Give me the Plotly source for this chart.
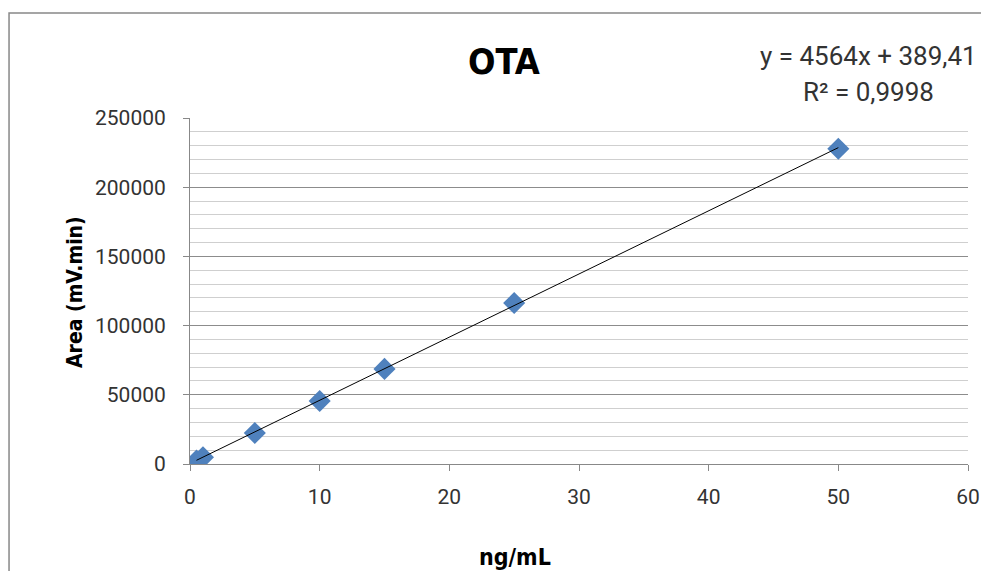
import plotly.graph_objects as go

conc = [0.5, 1, 5, 10, 15, 25, 50]
area = [2500, 4900, 22400, 45500, 68700, 116300, 227800]
slope = 4564
intercept = 389.41
r2_text = "R² = 0,9998"
eq_text = "y = 4564x + 389,41"

x_fit = [min(conc), max(conc)]
y_fit = [slope * v + intercept for v in x_fit]

FONT = "Roboto, Liberation Sans, sans-serif"
BOLD = "DejaVu Sans Condensed, Roboto, sans-serif"

fig = go.Figure()
fig.add_trace(go.Scatter(x=conc, y=area, mode="markers",
                         marker=dict(symbol="diamond", size=17, color="#4F81BD",
                                     line=dict(width=0)),
                         showlegend=False))
fig.add_trace(go.Scatter(x=x_fit, y=y_fit, mode="lines",
                         line=dict(color="black", width=1), showlegend=False))

fig.update_layout(
    width=989, height=571,
    margin=dict(l=182, r=29, t=110, b=115, autoexpand=False),
    paper_bgcolor="white", plot_bgcolor="white",
    font=dict(family=FONT, size=21, color="#333"),
    xaxis=dict(range=[0, 60], dtick=10, showgrid=False, zeroline=False, automargin=False,
               showline=True, linecolor="#888", linewidth=1,
               ticks="outside", ticklen=6, tickcolor="#888", ticklabelstandoff=8),
    yaxis=dict(range=[0, 250000], dtick=50000, tickformat="d", showgrid=True,
               gridcolor="#8c8c8c", gridwidth=1, automargin=False,
               zeroline=False, showline=True, linecolor="#888", linewidth=1,
               ticks="outside", ticklen=6, tickcolor="#888", ticklabelstandoff=13,
               minor=dict(dtick=10000, showgrid=True, gridcolor="#cfcfcf", gridwidth=1)),
    annotations=[
        dict(text="<b>OTA</b>", xref="paper", yref="paper", x=0.4036, y=1.1647,
             xanchor="center", yanchor="middle", showarrow=False,
             font=dict(family=BOLD, size=36, color="black")),
        dict(text=eq_text, xref="paper", yref="paper",
             x=1.0141, y=1.1792, xanchor="right", yanchor="middle", showarrow=False,
             font=dict(family=FONT, size=26, color="#333")),
        dict(text=r2_text, xref="paper", yref="paper",
             x=0.8715, y=1.0751, xanchor="center", yanchor="middle", showarrow=False,
             font=dict(family=FONT, size=26, color="#333")),
        dict(text="<b>Area (mV.min)</b>", xref="paper", yref="paper", x=-0.1478, y=0.497,
             xanchor="center", yanchor="middle", textangle=-90, showarrow=False,
             font=dict(family=BOLD, size=21, color="black")),
        dict(text="<b>ng/mL</b>", xref="paper", yref="paper", x=0.4177, y=-0.2688,
             xanchor="center", yanchor="middle", showarrow=False,
             font=dict(family=BOLD, size=23, color="black")),
    ],
    shapes=[
        dict(type="rect", xref="paper", yref="paper",
             x0=-0.2326, x1=1.1, y0=-0.5, y1=1.3035,
             line=dict(color="#888", width=1.5), fillcolor="rgba(0,0,0,0)", layer="below"),
    ],
)

fig.write_html("out.html")
